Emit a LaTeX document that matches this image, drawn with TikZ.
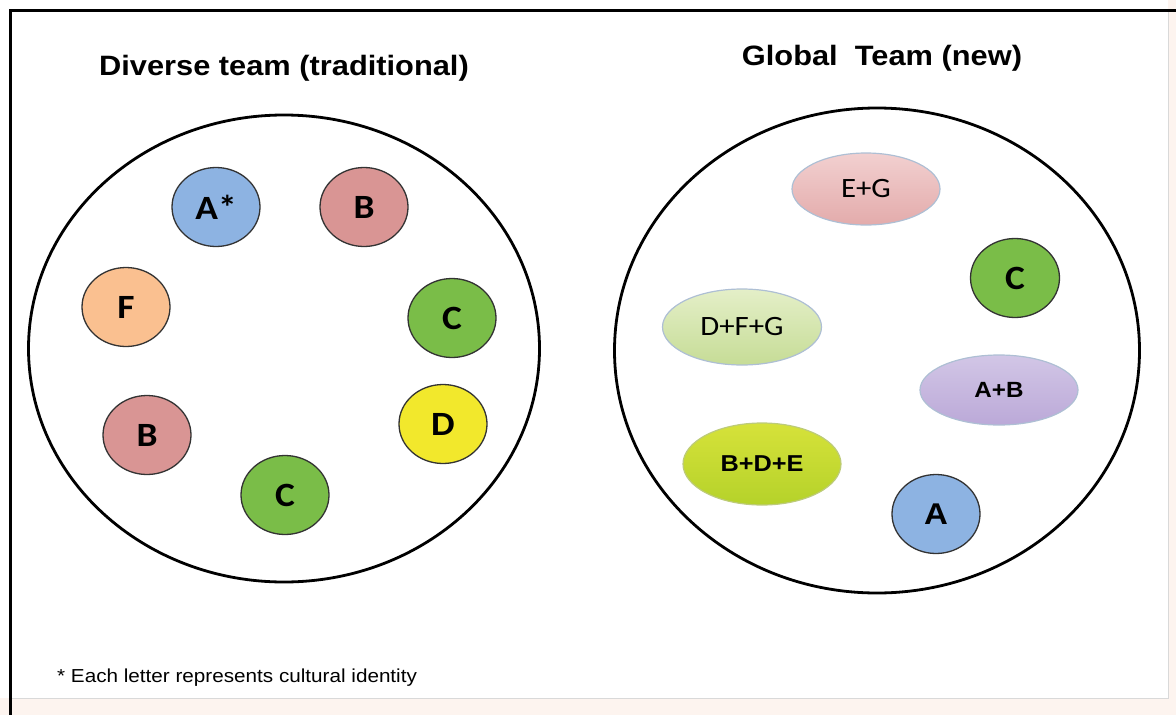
\documentclass[tikz,border=0pt]{standalone}
\usepackage{fontspec}
\usepackage{graphicx}
\usetikzlibrary{shapes.geometric}
\newfontfamily\arialf{Liberation Sans}
\newfontfamily\calf{Carlito}
\newcommand{\sx}[1]{\scalebox{1.1}[1]{#1}}
\definecolor{cblue}{HTML}{8DB3E2}
\definecolor{cpink}{HTML}{D99594}
\definecolor{corange}{HTML}{FAC090}
\definecolor{cgreen}{HTML}{7ABD48}
\definecolor{cyellow}{HTML}{F2E82C}
\definecolor{cborder}{HTML}{AEBFD4}
\definecolor{cbg}{HTML}{FDF4EF}
\definecolor{egtop}{HTML}{F2D0D0}
\definecolor{egbot}{HTML}{E3ABAB}
\definecolor{dfgtop}{HTML}{E4EFC8}
\definecolor{dfgbot}{HTML}{C6DC96}
\definecolor{abtop}{HTML}{D2C6E6}
\definecolor{abbot}{HTML}{BBA9D8}
\definecolor{bdetop}{HTML}{D6E23A}
\definecolor{bdebot}{HTML}{B5D22A}
\begin{document}
\begin{tikzpicture}[x=1pt,y=-1pt,
  member/.style={ellipse, draw=black!80, line width=1.3pt, minimum width=88pt, minimum height=79pt, inner sep=0pt, font=\calf\bfseries\fontsize{34}{34}\selectfont},
  group/.style={ellipse, draw=cborder, line width=1.2pt, inner sep=0pt, font=\calf\fontsize{28}{28}\selectfont},
  boldgroup/.style={group, font=\arialf\bfseries\fontsize{23}{23}\selectfont},
  team/.style={ellipse, draw=black, line width=2.8pt, inner sep=0pt},
  heading/.style={anchor=base, inner sep=0pt, font=\arialf\bfseries\fontsize{28}{30}\selectfont}
]
\useasboundingbox (0,0) rectangle (1176,715);
% frame
\fill[cbg] (0,698) rectangle (1176,715);
\fill[cbg] (1168,0) rectangle (1176,715);
\draw[black!15, line width=1pt] (1168,10) -- (1168,698) -- (10,698);
\draw[line width=3pt] (10,715) -- (10,10) -- (1176,10);

% titles
\node[heading] (t1) at (284,75) {\sx{Diverse team (traditional)}};
\node[heading] (t2) at (882,65) {\sx{Global\ \ Team (new)}};

% big circles
\node[team, minimum width=511pt, minimum height=467pt] (leftteam) at (284,348.5) {};
\node[team, minimum width=525pt, minimum height=485pt] (rightteam) at (877,350.5) {};

% left members
\node[member, fill=cblue]   (la)  at (216,207) {\sx{A*}};
\node[member, fill=cpink]   (lb1) at (364,207) {\sx{B}};
\node[member, fill=corange] (lf)  at (126,307) {\sx{F}};
\node[member, fill=cgreen]  (lc1) at (452,318) {\sx{C}};
\node[member, fill=cyellow] (ld)  at (443,424) {\sx{D}};
\node[member, fill=cpink]   (lb2) at (147,435) {\sx{B}};
\node[member, fill=cgreen]  (lc2) at (285,495) {\sx{C}};

% right members
\node[group, minimum width=148pt, minimum height=72pt, top color=egtop, bottom color=egbot] (eg) at (866,189) {\sx{E+G}};
\node[member, fill=cgreen, minimum width=89pt] (rc) at (1015,278) {\sx{C}};
\node[group, minimum width=159pt, minimum height=76pt, top color=dfgtop, bottom color=dfgbot] (dfg) at (742,327) {\sx{D+F+G}};
\node[boldgroup, minimum width=158pt, minimum height=70pt, top color=abtop, bottom color=abbot, font=\arialf\bfseries\fontsize{22}{22}\selectfont] (ab) at (999,390) {\sx{A+B}};
\node[boldgroup, minimum width=158pt, minimum height=82pt, top color=bdetop, bottom color=bdebot, draw=bdebot!80!black!60] (bde) at (762,464) {\sx{B+D+E}};
\node[member, fill=cblue, font=\arialf\bfseries\fontsize{30}{30}\selectfont] (ra) at (936,514) {\sx{A}};

% footnote
\node[anchor=base west, inner sep=0pt, font=\arialf\fontsize{18.8}{20}\selectfont] (note) at (57,682) {\sx{* Each letter represents cultural identity}};
\end{tikzpicture}
\end{document}
